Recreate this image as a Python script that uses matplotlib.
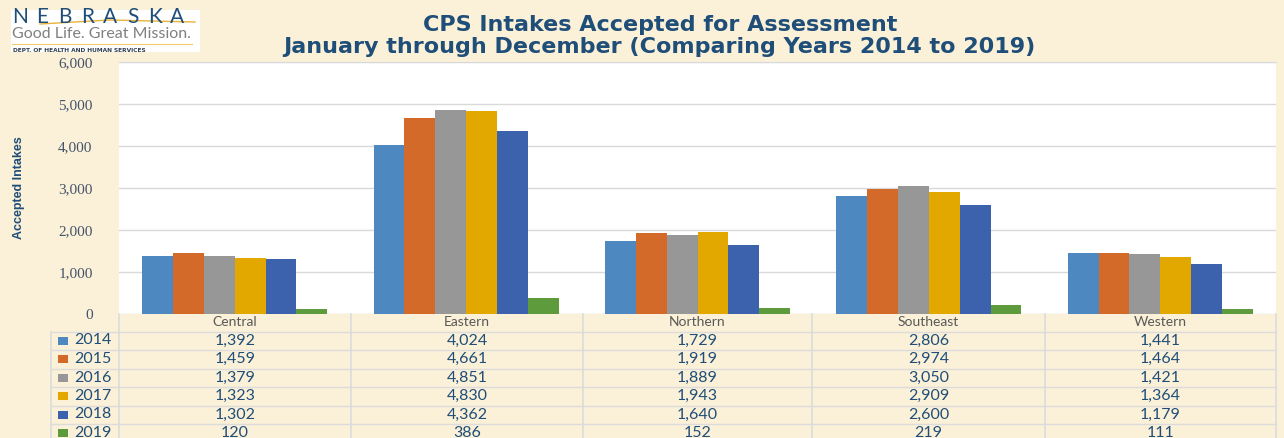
import numpy as np
import matplotlib
matplotlib.use('Agg')
import matplotlib.pyplot as plt
from matplotlib.patches import Rectangle
from matplotlib.lines import Line2D

# Data
regions = ['Central', 'Eastern', 'Northern', 'Southeast', 'Western']
years = ['2014', '2015', '2016', '2017', '2018', '2019']
v2014 = [1392, 4024, 1729, 2806, 1441]
v2015 = [1459, 4661, 1919, 2974, 1464]
v2016 = [1379, 4851, 1889, 3050, 1421]
v2017 = [1323, 4830, 1943, 2909, 1364]
v2018 = [1302, 4362, 1640, 2600, 1179]
v2019 = [120, 386, 152, 219, 111]
series = [v2014, v2015, v2016, v2017, v2018, v2019]
colors = ['#4E88C0', '#D46A2A', '#979797', '#E2A800', '#3C62AD', '#5E9B3C']

W, H = 1284, 438
bg = '#FBF0D8'
navy = '#1F4E79'

fig = plt.figure(figsize=(W / 100, H / 100), dpi=100, facecolor=bg)

def fx(px):
    return px / W

def fy(py):
    return 1 - py / H

left, right, top, bottom = 119, 1276, 62, 314
ax = fig.add_axes([fx(left), fy(bottom), fx(right - left), fy(top) - fy(bottom)])
ax.set_facecolor('white')

x = np.arange(len(regions))
w = 0.8 / len(years)
for i, (vals, c) in enumerate(zip(series, colors)):
    ax.bar(x + (i - 2.5) * w, vals, w, color=c, zorder=3)

ax.set_xlim(-0.5, len(regions) - 0.5)
ax.set_ylim(0, 6000)
ax.set_yticks(range(0, 6001, 1000))
ax.set_yticklabels([f'{v:,}' for v in range(0, 6001, 1000)],
                   family='Liberation Serif', fontsize=11, color='#44546A')
ax.tick_params(axis='y', length=0, pad=19)
ax.set_xticks([])
ax.grid(axis='y', color='#D9D9D9', linewidth=1, zorder=0)
for s in ['left', 'right', 'bottom']:
    ax.spines[s].set_visible(False)
ax.spines['top'].set_color('#D9D9D9')

# y label
fig.text(fx(19), fy(188), 'Accepted Intakes', rotation=90, ha='center', va='center',
         family='Liberation Sans', fontweight='bold', fontsize=9, color=navy)

# title
fig.text(fx(660), fy(25), 'CPS Intakes Accepted for Assessment', ha='center', va='center',
         fontsize=16, fontweight='bold', family='DejaVu Sans', color=navy)
fig.text(fx(659), fy(47), 'January through December (Comparing Years 2014 to 2019)',
         ha='center', va='center', fontsize=16, fontweight='bold', family='DejaVu Sans',
         color=navy)

# data table
grid_c = '#DCDCDC'
col_edges = [119, 351, 583, 812, 1045, 1276]
hdr_y = 322.5
row_y = [340.5, 359, 377.5, 396, 414.5, 433]
line_y = [331.5, 350, 368.5, 387, 405.5, 424]
for xe in col_edges:
    fig.add_artist(Line2D([fx(xe), fx(xe)], [fy(314), fy(438)], color=grid_c, lw=1.2))
fig.add_artist(Line2D([fx(51), fx(51)], [fy(331.5), fy(438)], color=grid_c, lw=1.2))
for ly in line_y:
    fig.add_artist(Line2D([fx(51), fx(1276)], [fy(ly), fy(ly)], color=grid_c, lw=1.0))

for j, r in enumerate(regions):
    cx = (col_edges[j] + col_edges[j + 1]) / 2
    fig.text(fx(cx), fy(hdr_y), r, ha='center', va='center', fontsize=10,
             family='Lato', color='#595959')
for i, (yr, vals, c) in enumerate(zip(years, series, colors)):
    y = row_y[i]
    fig.add_artist(Rectangle((fx(58), fy(y + 4)), fx(10), fy(y - 4) - fy(y + 4),
                             facecolor=c, edgecolor='none'))
    fig.text(fx(74), fy(y), yr, ha='left', va='center', fontsize=11.5,
             family='Lato', color=navy)
    for j, v in enumerate(vals):
        cx = (col_edges[j] + col_edges[j + 1]) / 2
        fig.text(fx(cx), fy(y), f'{v:,}', ha='center', va='center', fontsize=11.5,
                 family='Lato', color=navy)

# logo
fig.add_artist(Rectangle((fx(11), fy(52)), fx(189), fy(10) - fy(52),
                         facecolor='white', edgecolor='none'))
for k, ch in enumerate('NEBRASKA'):
    fig.text(fx(20 + k * 22.5), fy(17), ch, ha='center', va='center', fontsize=15,
             color=navy, family='Lato')
fig.add_artist(Line2D([fx(40), fx(110), fx(195)], [fy(24), fy(20), fy(22)],
                      color='#E8B33A', lw=1))
fig.text(fx(12), fy(34), 'Good Life. Great Mission.', ha='left', va='center',
         fontsize=11.5, family='Lato', color='#808080')
fig.add_artist(Line2D([fx(12), fx(192)], [fy(44), fy(44)], color='#F2C96B', lw=0.8))
fig.text(fx(13), fy(50), 'DEPT. OF HEALTH AND HUMAN SERVICES', ha='left', va='center',
         fontsize=4.2, fontweight='bold', color='#333F50')

fig.savefig('out.png', dpi=100, facecolor=bg)
